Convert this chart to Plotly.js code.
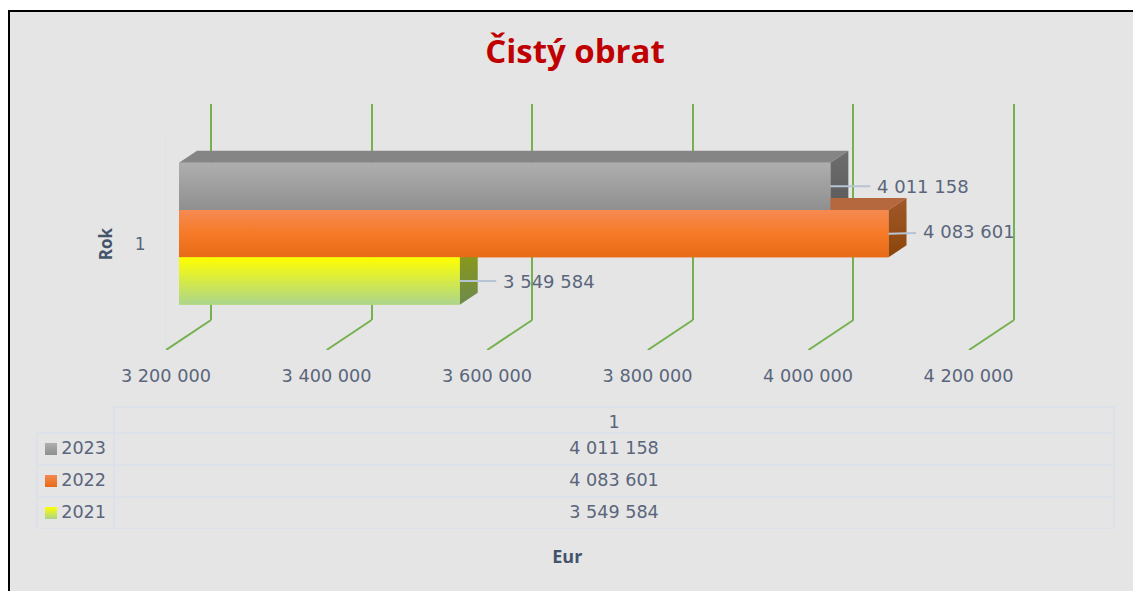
<!DOCTYPE html>
<html><head><meta charset="utf-8">
<script src="https://cdn.plot.ly/plotly-3.0.1.min.js"></script>
<style>html,body{margin:0;padding:0;background:#fff;overflow:hidden}#c{width:1133px;height:591px}</style>
</head><body><div id="c"></div>
<script>
// ---- data ----
const categories = ['1'];
const years = ['2021', '2022', '2023'];
const values2021 = [3549584];
const values2022 = [4083601];
const values2023 = [4011158];
const tickValues = [3200000, 3400000, 3600000, 3800000, 4000000, 4200000];
const tickLabels = ['3 200 000', '3 400 000', '3 600 000', '3 800 000', '4 000 000', '4 200 000'];

// ---- styles ----
const W = 1133, H = 591;
const textColor = '#5a667c', titleColor = '#44546a', gridColor = '#75b14f', tableLine = '#dce1ea', bg = '#e5e5e5';
const FONT = 'DejaVu Sans';
const styles = {
  '2021': {front: ['#ffff00', '#abd58c'], side: ['#8f9a10', '#6c8a4e'], top: '#8f9a10', bar: '#d5ea46', label: [89, 0]},
  '2022': {front: ['#f58a52', '#f67a27', '#e76a16'], side: ['#a2582b', '#8a4509'], top: '#b5673d', bar: '#f67a27', label: [80, -2]},
  '2023': {front: ['#aeaeae', '#8f8f8f'], side: ['#6e6e6e', '#5a5a5a'], top: '#858585', bar: '#a0a0a0', label: [92.5, 0]}
};
const seriesValues = {'2021': values2021[0], '2022': values2022[0], '2023': values2023[0]};

const pxPerUnit = 160.6 / 200000, axisMin = tickValues[0];
const unitsFromPx = px => px / pxPerUnit;
const xDom = (a, b) => [a / W, b / W];
const yDom = (top, bottom) => [1 - bottom / H, 1 - top / H];
const xRange = left => [axisMin, axisMin + unitsFromPx(W - left)];

const bargap = 0.33, band = (1 - bargap) / years.length;
const depthX = unitsFromPx(18), depthY = 12 / 212;
const bandLow = i => 1 - (1 - bargap) / 2 + i * band;

const traces = [];
// back-wall grid carrier (first subplot after the main one, so it stays under the bars)
traces.push({type: 'scatter', mode: 'markers', x: [axisMin], y: [1], xaxis: 'x', yaxis: 'y', marker: {opacity: 0}, showlegend: false, hoverinfo: 'skip'});
traces.push({type: 'scatter', mode: 'markers', x: [axisMin], y: [0.5], xaxis: 'x2', yaxis: 'y2', marker: {opacity: 0}, showlegend: false, hoverinfo: 'skip'});
// base bars
years.forEach(y => traces.push({
  type: 'bar', orientation: 'h', name: y, x: [seriesValues[y]], y: [1],
  xaxis: 'x3', yaxis: 'y3', marker: {color: styles[y].bar, line: {width: 0}}, showlegend: false, hoverinfo: 'x+name'
}));
const scale = cols => cols.slice().reverse().map((c, i) => [i / (cols.length - 1), c]);
const face = (xs, ys, grad) => ({
  type: 'scatter', mode: 'lines', x: xs, y: ys, xaxis: 'x3', yaxis: 'y3', fill: 'toself', line: {width: 0},
  fillcolor: grad[0], fillgradient: {type: 'vertical', colorscale: scale(grad)}, showlegend: false, hoverinfo: 'skip'
});
// receding faces, back bars first
[2, 1, 0].forEach(i => {
  const y = years[i], v = seriesValues[y], lo = bandLow(i), hi = lo + band, s = styles[y];
  traces.push(face([axisMin, v, v + depthX, axisMin + depthX, axisMin], [hi, hi, hi + depthY, hi + depthY, hi], [s.top, s.top]));
  traces.push(face([v, v + depthX, v + depthX, v, v], [lo, lo + depthY, hi + depthY, hi, lo], s.side));
});
// front faces
[2, 1, 0].forEach(i => {
  const y = years[i], v = seriesValues[y], lo = bandLow(i), hi = lo + band;
  traces.push(face([axisMin, v, v, axisMin, axisMin], [lo, lo, hi, hi, lo], styles[y].front));
});
// floor diagonals
const floorDepthX = unitsFromPx(45), floorY = 30 / 212;
const dx = [], dy = [];
tickValues.forEach(t => { dx.push(t, t + floorDepthX, null); dy.push(0.5, 0.5 + floorY, null); });
traces.push({type: 'scatter', mode: 'lines', x: dx, y: dy, xaxis: 'x4', yaxis: 'y', line: {color: gridColor, width: 2},
  showlegend: false, hoverinfo: 'skip'});

// data table
const rowOrder = ['2023', '2022', '2021'];
const fmt = v => String(v).replace(/\B(?=(\d{3})+$)/g, ' ');
const tableFont = {family: FONT, size: 17.6, color: textColor};
traces.push({
  type: 'table', domain: {x: xDom(114, 1114), y: yDom(407, 529)}, columnwidth: [1],
  header: {values: [categories[0]], height: 26, align: 'center', fill: {color: 'rgba(0,0,0,0)'}, line: {color: tableLine, width: 1.5}, font: tableFont},
  cells: {values: [rowOrder.map(y => fmt(seriesValues[y]))], height: 32, align: 'center', fill: {color: 'rgba(0,0,0,0)'}, line: {color: tableLine, width: 1.5}, font: tableFont}
});
traces.push({
  type: 'table', domain: {x: xDom(37, 114), y: yDom(407, 529)}, columnwidth: [1],
  header: {values: [''], height: 26, fill: {color: 'rgba(0,0,0,0)'}, line: {color: 'rgba(0,0,0,0)', width: 0}},
  cells: {values: [rowOrder], height: 32, align: 'right', fill: {color: 'rgba(0,0,0,0)'}, line: {color: tableLine, width: 1.5}, font: tableFont}
});
// legend keys
rowOrder.forEach((y, r) => traces.push({
  type: 'scatter', mode: 'markers', x: [0], y: [r], xaxis: 'x5', yaxis: 'y5', showlegend: false, hoverinfo: 'skip',
  marker: {symbol: 'square', size: 12, color: styles[y].front[0],
    gradient: {type: 'vertical', color: styles[y].front[styles[y].front.length - 1]}, line: {width: 0}}
}));

const annotations = years.map(y => ({
  x: seriesValues[y], y: bandLow(years.indexOf(y)) + band / 2, xref: 'x3', yref: 'y3',
  text: fmt(seriesValues[y]), showarrow: true, arrowhead: 0, arrowwidth: 2, arrowcolor: '#b7c4d4',
  ax: styles[y].label[0], ay: styles[y].label[1], axref: 'pixel', ayref: 'pixel', borderpad: 6,
  font: {family: FONT, size: 18, color: textColor}
}));

const layout = {
  width: W, height: H, margin: {l: 0, r: 0, t: 0, b: 0}, paper_bgcolor: '#ffffff', plot_bgcolor: 'rgba(0,0,0,0)',
  showlegend: false, barmode: 'group', bargap: bargap, hovermode: false, annotations,
  title: {text: '<b>Čistý obrat</b>', x: 575 / W, xanchor: 'center', y: 1 - 51 / H, yanchor: 'middle',
    font: {family: 'Open Sans', size: 33, color: '#c00000'}},
  shapes: [{type: 'rect', xref: 'paper', yref: 'paper', layer: 'below', x0: 9 / W, x1: 1.05, y0: -0.05, y1: 1 - 11 / H,
    fillcolor: bg, line: {color: '#000', width: 2}}],
  xaxis: {domain: xDom(166, 968.6), range: [tickValues[0], tickValues[5]], anchor: 'y', tickmode: 'array', tickvals: tickValues, ticktext: tickLabels,
    showgrid: false, zeroline: false, showline: false, ticks: 'outside', ticklen: 10, tickcolor: 'rgba(0,0,0,0)',
    tickfont: {family: FONT, size: 17.7, color: textColor},
    title: {text: '<b>Eur</b>', standoff: 165, font: {family: 'Open Sans', size: 18, color: titleColor}}},
  yaxis: {domain: yDom(138, 350), range: [0.5, 1.5], anchor: 'x', tickmode: 'array', tickvals: [1], ticktext: categories,
    showgrid: false, zeroline: false, showline: true, linecolor: '#dde1ea', linewidth: 1, ticks: 'outside', ticklen: 16, tickcolor: 'rgba(0,0,0,0)',
    tickfont: {family: FONT, size: 17, color: textColor},
    title: {text: '<b>Rok</b>', standoff: 17, font: {family: 'Open Sans', size: 17, color: titleColor}}},
  // back wall: starts a little left of the first tick so its grid line is kept
  xaxis2: {domain: xDom(200, W), range: [axisMin - unitsFromPx(11), axisMin + unitsFromPx(W - 211)], anchor: 'y2', tickmode: 'array', tickvals: tickValues, showticklabels: false, ticks: '',
    showgrid: true, gridcolor: gridColor, gridwidth: 2, zeroline: false, showline: false},
  yaxis2: {domain: yDom(104, 320), range: [0, 1], anchor: 'x2', visible: false},
  xaxis3: {domain: xDom(179, W), range: xRange(179), anchor: 'y3', visible: false},
  yaxis3: {domain: yDom(127.7, 339.7), range: [0.5, 1.5], anchor: 'x3', visible: false},
  xaxis4: {domain: xDom(166, W), range: xRange(166), anchor: 'y', visible: false},
  xaxis5: {domain: xDom(31, 71), range: [-0.52, 0.52], anchor: 'y5', visible: false},
  yaxis5: {domain: yDom(433, 529), range: [2.5, -0.5], anchor: 'x5', visible: false}
};
Plotly.newPlot('c', traces, layout, {displayModeBar: false, staticPlot: true});
</script></body></html>
